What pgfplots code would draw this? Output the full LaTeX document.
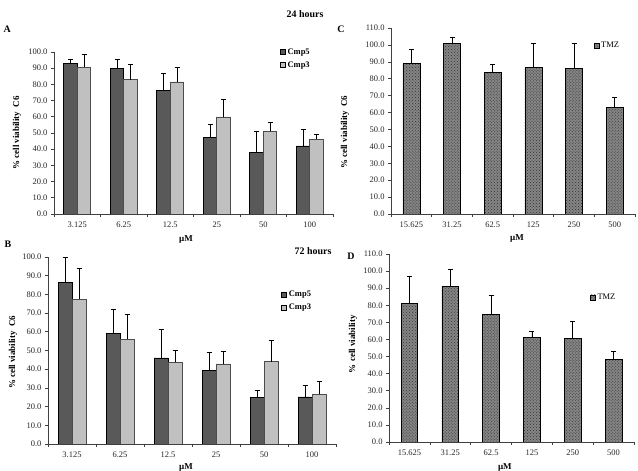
\documentclass[border=0pt]{standalone}
\usepackage{fontspec}
\setmainfont{Liberation Serif}
\usepackage{pgfplots}
\pgfplotsset{compat=1.18}
\usepackage{pgfplotstable}
\usetikzlibrary{patterns}

\definecolor{cmpfive}{HTML}{595959}
\definecolor{cmpthree}{HTML}{C0C0C0}

% 24 hours, Cmp5 / Cmp3 (C6)
\pgfplotstableread{
x c5 e5 c3 e3
0 92.8 2.5 90.7 8.0
1 90.1 5.2 82.9 9.7
2 76.3 10.7 81.5 9.2
3 47.5 7.6 59.9 10.7
4 38.1 12.7 51.0 5.6
5 42.0 10.3 46.1 3.1
}\tblA
% 72 hours, Cmp5 / Cmp3 (C6)
\pgfplotstableread{
x c5 e5 c3 e3
0 86.3 13.7 77.3 16.5
1 59.1 13.0 55.9 13.7
2 46.0 15.3 43.7 6.2
3 39.3 9.5 42.8 6.6
4 24.9 3.7 44.0 11.2
5 25.2 6.4 26.5 6.9
}\tblB
% 24 hours, TMZ
\pgfplotstableread{
x t e
0 88.9 8.7
1 100.9 3.8
2 83.6 5.1
3 86.7 14.4
4 86.1 14.6
5 63.1 6.1
}\tblC
% 72 hours, TMZ
\pgfplotstableread{
x t e
0 81.3 15.4
1 90.9 10.1
2 74.7 10.9
3 61.1 3.7
4 60.7 10.1
5 48.4 4.9
}\tblD

\pgfplotsset{
  panel/.style={
    scale only axis,
    anchor=south west,
    ybar=0pt,
    xmin=-0.5, xmax=5.5,
    ymin=0,
    axis x line*=bottom, axis y line*=left,
    axis line style={black!75, line width=0.6bp},
    xtick={-0.5,0.5,...,5.5},
    x tick label as interval,
    tick align=outside,
    major tick length=3bp,
    tick style={black!75, line width=0.6bp},
    ytick distance=10,
    /pgf/number format/assume math mode=true,
    yticklabel style={/pgf/number format/fixed, /pgf/number format/fixed zerofill, /pgf/number format/precision=1},
    tick label style={font=\fontsize{8.5}{10}\selectfont, text=black!85},
    xticklabel style={yshift=-1.5bp},
    label style={font=\fontsize{9}{10}\selectfont\bfseries},
    legend style={draw=none, fill=none, font=\fontsize{8.5}{10}\selectfont, cells={anchor=west}, row sep=2bp, inner sep=0pt},
    legend image code/.code={\draw[##1, draw=black, line width=0.4bp] (0bp,-2.5bp) rectangle (5bp,2.5bp);},
    error bars/y dir=plus,
    error bars/y explicit,
    error bars/error bar style={black, line width=0.6bp},
    error bars/error mark options={rotate=90, mark size=2.5bp, line width=0.6bp, black},
  },
  bar5/.style={fill=cmpfive, draw=black, line width=0.6bp},
  bar3/.style={fill=cmpthree, draw=black!70, line width=0.6bp},
  tmz/.style={fill=black!48, draw=black, line width=0.6bp, postaction={pattern=crosshatch dots, pattern color=black!80}},
}

\begin{document}
\begin{tikzpicture}[x=1bp, y=1bp]
\path[use as bounding box] (0,0) rectangle (638,471);

% Panel A
\begin{axis}[panel, at={(54bp,257bp)}, width=279bp, height=162bp, ymax=100,
  bar width=13.5bp,
  xticklabels={3.125,6.25,12.5,25,50,100},
  ylabel={\% cell viability\ \ C6}, xlabel={µM},
  ylabel style={at={(axis description cs:-0.133,0.5)}, anchor=center},
  xlabel style={at={(axis description cs:0.473,-0.16)}, anchor=center},
  legend style={at={(rel axis cs:0.81,1.035)}, anchor=north west, font=\fontsize{8.5}{10}\selectfont\bfseries}]
\addplot[bar5] table[x=x, y=c5, y error=e5] {\tblA};
\addplot[bar3] table[x=x, y=c3, y error=e3] {\tblA};
\legend{Cmp5, Cmp3}
\end{axis}

% Panel B
\begin{axis}[panel, at={(48bp,27bp)}, width=288bp, height=187bp, ymax=100,
  bar width=14bp,
  xticklabels={3.125,6.25,12.5,25,50,100},
  ylabel={\% cell viability\ \ C6}, xlabel={µM},
  ylabel style={at={(axis description cs:-0.122,0.49)}, anchor=center},
  xlabel style={at={(axis description cs:0.479,-0.128)}, anchor=center},
  legend style={at={(rel axis cs:0.81,0.83)}, anchor=north west, font=\fontsize{8.5}{10}\selectfont\bfseries}]
\addplot[bar5] table[x=x, y=c5, y error=e5] {\tblB};
\addplot[bar3] table[x=x, y=c3, y error=e3] {\tblB};
\legend{Cmp5, Cmp3}
\end{axis}

% Panel C
\begin{axis}[panel, at={(391bp,257bp)}, width=244bp, height=186bp, ymax=110,
  bar width=17bp,
  xticklabels={15.625,31.25,62.5,125,250,500},
  ylabel={\% cell viability\ \ C6}, xlabel={µM},
  ylabel style={at={(axis description cs:-0.189,0.44)}, anchor=center},
  xlabel style={at={(axis description cs:0.516,-0.13)}, anchor=center},
  legend style={at={(rel axis cs:0.83,0.935)}, anchor=north west}]
\addplot[tmz] table[x=x, y=t, y error=e] {\tblC};
\legend{TMZ}
\end{axis}

% Panel D
\begin{axis}[panel, at={(389bp,29bp)}, width=245bp, height=188bp, ymax=110,
  bar width=16.7bp,
  xticklabels={15.625,31.25,62.5,125,250,500},
  ylabel={\% cell viability}, xlabel={µM},
  ylabel style={at={(axis description cs:-0.147,0.52)}, anchor=center},
  xlabel style={at={(axis description cs:0.473,-0.134)}, anchor=center},
  legend style={at={(rel axis cs:0.82,0.80)}, anchor=north west}]
\addplot[tmz] table[x=x, y=t, y error=e] {\tblD};
\legend{TMZ}
\end{axis}

\node[font=\fontsize{10}{11}\selectfont\bfseries] at (305,457) {24 hours};
\node[font=\fontsize{10}{11}\selectfont\bfseries] at (313,220) {72 hours};
\node[font=\fontsize{10}{11}\selectfont\bfseries, anchor=west] at (0,442) {A};
\node[font=\fontsize{10}{11}\selectfont\bfseries, anchor=west] at (1,227) {B};
\node[font=\fontsize{10}{11}\selectfont\bfseries] at (341,442) {C};
\node[font=\fontsize{10}{11}\selectfont\bfseries] at (351,215) {D};
\end{tikzpicture}
\end{document}
